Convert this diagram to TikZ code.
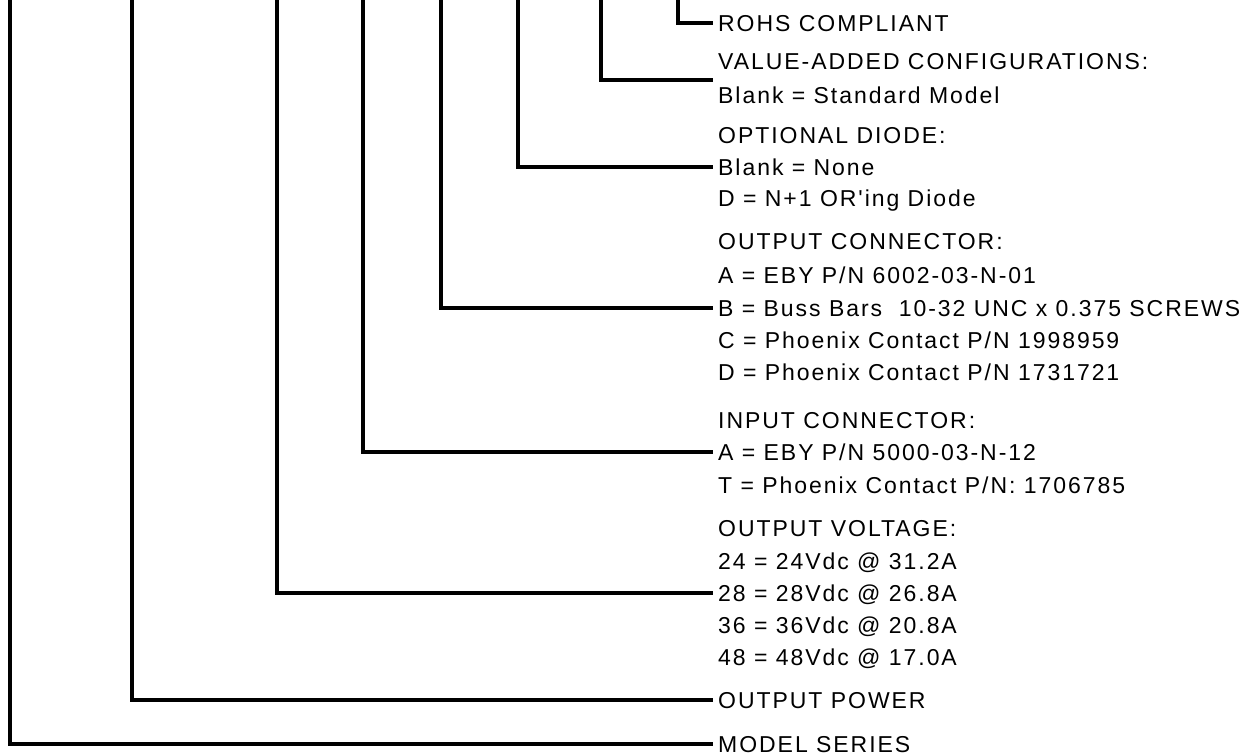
\documentclass[tikz,border=0pt]{standalone}
\usepackage{fontspec}
\newfontfamily\ordfont[LetterSpace=8.5]{Liberation Sans}
\usepackage{tikz}
\tikzstyle{ord_t} = [anchor=west, inner xsep=5pt, inner ysep=0pt, text height=16.6pt, text depth=0pt, font=\ordfont\fontsize{23}{23}\selectfont]
\tikzstyle{ord_l} = [line width=4pt, line join=miter, black]

\begin{document}
\begin{tikzpicture}[x=1pt,y=-1pt]
\useasboundingbox (0,0) rectangle (1249,754);
\node [ord_t, name=rohs] at (713,23) {ROHS COMPLIANT};
\node [ord_t, name=vac] at (713,61) {VALUE-ADDED CONFIGURATIONS:};
\node [ord_t, name=vstd] at (713,95) {Blank = Standard Model};
\node [ord_t, name=diode] at (713,135) {OPTIONAL DIODE:};
\node [ord_t, name=dnone] at (713,167) {Blank = None};
\node [ord_t, name=dor] at (713,198) {D = N+1 OR'ing Diode};
\node [ord_t, name=oc] at (713,241) {OUTPUT CONNECTOR:};
\node [ord_t, name=oc a] at (713,275) {A = EBY P/N 6002-03-N-01};
\node [ord_t, name=oc b] at (713,308) {B = Buss Bars\ \ 10-32 UNC x 0.375 SCREWS};
\node [ord_t, name=oc c] at (713,340) {C = Phoenix Contact P/N 1998959};
\node [ord_t, name=oc d] at (713,372) {D = Phoenix Contact P/N 1731721};
\node [ord_t, name=ic] at (713,420) {INPUT CONNECTOR:};
\node [ord_t, name=ic a] at (713,452) {A = EBY P/N 5000-03-N-12};
\node [ord_t, name=ic t] at (713,485) {T = Phoenix Contact P/N: 1706785};
\node [ord_t, name=ov] at (713,528) {OUTPUT VOLTAGE:};
\node [ord_t, name=v24] at (713,561) {24 = 24Vdc @ 31.2A};
\node [ord_t, name=v28] at (713,593) {28 = 28Vdc @ 26.8A};
\node [ord_t, name=v36] at (713,625) {36 = 36Vdc @ 20.8A};
\node [ord_t, name=v48] at (713,657) {48 = 48Vdc @ 17.0A};
\node [ord_t, name=pow] at (713,700) {OUTPUT POWER};
\node [ord_t, name=ser] at (713,744) {MODEL SERIES};

\coordinate (top ser) at (10,0);
\coordinate (top pow) at (132,0);
\coordinate (top volt) at (277,0);
\coordinate (top in) at (363,0);
\coordinate (top out) at (441,0);
\coordinate (top diode) at (518,0);
\coordinate (top vac) at (601,0);
\coordinate (top rohs) at (678,0);
\coordinate (vac end) at (713,80);

\draw [ord_l] (top rohs) |- (rohs.west);
\draw [ord_l] (top vac) |- (vac end);
\draw [ord_l] (top diode) |- (dnone.west);
\draw [ord_l] (top out) |- (oc b.west);
\draw [ord_l] (top in) |- (ic a.west);
\draw [ord_l] (top volt) |- (v28.west);
\draw [ord_l] (top pow) |- (pow.west);
\draw [ord_l] (top ser) |- (ser.west);
\end{tikzpicture}
\end{document}
